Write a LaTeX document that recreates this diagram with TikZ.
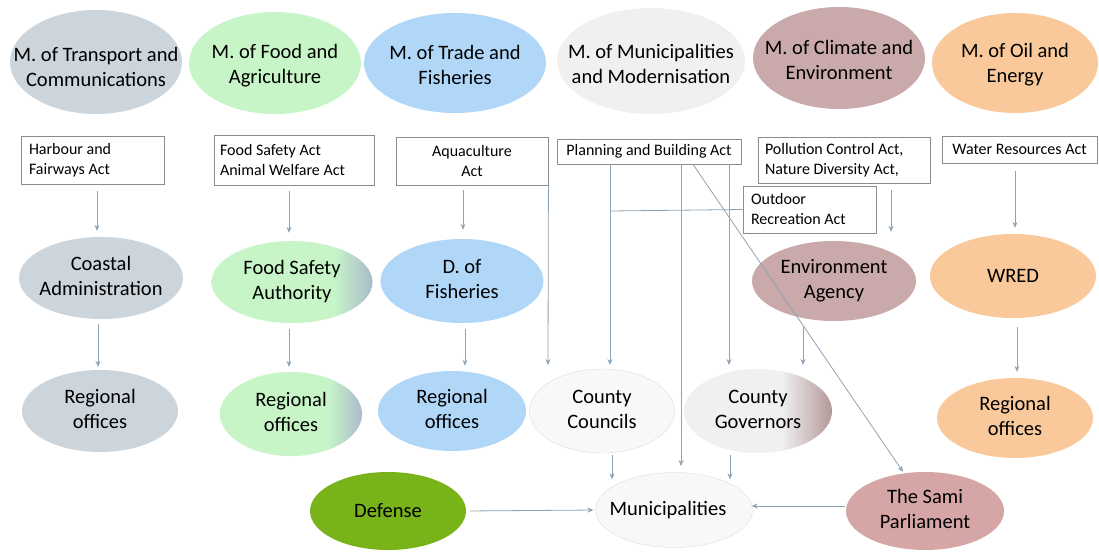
\documentclass[tikz,border=0pt]{standalone}
\usepackage{fontspec}
\setmainfont{Carlito}
\usetikzlibrary{shapes.geometric,arrows.meta}
\definecolor{cgray}{HTML}{CDD5DC}
\definecolor{cgreen}{HTML}{C8F5C8}
\definecolor{cblue}{HTML}{B0D7F8}
\definecolor{clight}{HTML}{F0F0F0}
\definecolor{cmauve}{HTML}{C9A9A9}
\definecolor{corange}{HTML}{F9C99B}
\definecolor{cdef}{HTML}{78B31A}
\definecolor{csami}{HTML}{D6A6A6}
\definecolor{cwhite}{HTML}{F9F7F7}
\definecolor{cwborder}{HTML}{E2DCDC}
\definecolor{cbg}{HTML}{A9BACB}
\definecolor{arrowc}{HTML}{8DA3B6}
\definecolor{boxc}{HTML}{8C8C8C}
\pgfdeclarehorizontalshading{greenblue}{100bp}{color(0bp)=(cgreen); color(25bp)=(cgreen); color(63bp)=(cgreen); color(75bp)=(cbg); color(100bp)=(cbg)}
\pgfdeclarehorizontalshading{graymauve}{100bp}{color(0bp)=(clight); color(25bp)=(clight); color(58bp)=(clight); color(75bp)=(cmauve!90!black); color(100bp)=(cmauve!90!black)}
\newcommand{\ztxt}[1]{\makebox[0pt]{\begin{tabular}{@{}c@{}}#1\end{tabular}}}
\newcommand{\ttxt}[2][-8.5pt]{\makebox[0pt]{\raisebox{#1}[0pt][0pt]{\begin{tabular}{@{}c@{}}#2\end{tabular}}}}
\tikzset{
  ell/.style={ellipse, inner sep=0pt, font=\fontsize{20.5}{25}\selectfont},
  actbox/.style={draw=boxc, line width=0.8pt, rectangle, inner sep=0pt, font=\fontsize{16}{20}\selectfont},
  lbox/.style={actbox, align=flush left, execute at begin node={\spaceskip=0pt\xspaceskip=0pt}},
  arr/.style={draw=arrowc, line width=0.8pt, -{Stealth[length=6pt,width=5pt]}},
  ln/.style={draw=arrowc, line width=0.8pt}
}
\begin{document}
\begin{tikzpicture}[x=1pt,y=-1pt]
\useasboundingbox (0,0) rectangle (1099,551);
% top ministries
\node[ell, fill=cgray, minimum width=172pt, minimum height=104pt] (mt) at (96,62) {\ttxt[-12pt]{M. of Transport and\\Communications}};
\node[ell, fill=cgreen, minimum width=172pt, minimum height=102pt] (mf) at (275,63) {\ttxt{M. of Food and\\Agriculture}};
\node[ell, fill=cblue, minimum width=182pt, minimum height=100pt] (mtr) at (455,63) {\ttxt[-9.5pt]{M. of Trade and\\Fisheries}};
\node[ell, fill=clight, minimum width=188pt, minimum height=106pt] (mm) at (651,61) {\ttxt[-10pt]{M. of Municipalities\\and Modernisation}};
\node[ell, fill=cmauve, minimum width=172pt, minimum height=102pt] (mc) at (839,58) {\ttxt[-9.5pt]{M. of Climate and\\Environment}};
\node[ell, fill=corange, minimum width=166pt, minimum height=100pt] (mo) at (1015,63) {\ttxt[-7.5pt]{M. of Oil and\\Energy}};
% act boxes
\node[lbox, minimum width=143pt, minimum height=48pt, text width=127pt] (harb) at (92.5,160) {Harbour and\\Fairways Act};
\node[lbox, minimum width=160pt, minimum height=50pt, text width=148pt] (food) at (294,160) {Food Safety Act\\Animal Welfare Act};
\node[actbox, minimum width=152pt, minimum height=48pt, align=center] (aqua) at (472,161) {Aquaculture\\Act};
\node[actbox, minimum width=184pt, minimum height=25pt, align=center] (plan) at (649,151.5) {Planning and Building Act};
\node[lbox, minimum width=172pt, minimum height=46pt, text width=158pt] (poll) at (844,160) {Pollution Control Act,\\Nature Diversity Act,};
\node[actbox, minimum width=155pt, minimum height=27pt, align=center] (water) at (1019.5,149.5) {Water Resources Act};
\node[lbox, minimum width=133pt, minimum height=47pt, text width=117pt, fill=white] (outd) at (809.5,209.5) {Outdoor\\Recreation Act};
% agencies
\node[ell, fill=cgray, minimum width=164pt, minimum height=82pt] (coast) at (101,278) {\ztxt{Coastal\\Administration}};
\node[ell, shading=greenblue, minimum width=161pt, minimum height=82pt] (fsa) at (292,282) {\ztxt{Food Safety\\Authority}};
\node[ell, fill=cblue, minimum width=163pt, minimum height=84pt] (dfis) at (462,281) {\ztxt{D. of\\Fisheries}};
\node[ell, fill=cmauve, minimum width=164pt, minimum height=80pt] (env) at (834,281) {\ztxt{Environment\\Agency}};
\node[ell, fill=corange, minimum width=166pt, minimum height=84pt] (wred) at (1013,276) {WRED};
% regional
\node[ell, fill=cgray, minimum width=156pt, minimum height=82pt] (reg1) at (100,411) {\ztxt{Regional\\offices}};
\node[ell, shading=greenblue, minimum width=142pt, minimum height=84pt] (reg2) at (291,414) {\ztxt{Regional\\offices}};
\node[ell, fill=cblue, minimum width=148pt, minimum height=80pt] (reg3) at (452,411) {\ztxt{Regional\\offices}};
\node[ell, fill=cwhite, draw=cwborder, minimum width=145pt, minimum height=84pt] (cc) at (602,411) {\ztxt{County\\Councils}};
\node[ell, shading=graymauve, minimum width=148pt, minimum height=84pt] (cg) at (758,411) {\ztxt{County\\Governors}};
\node[ell, fill=corange, minimum width=156pt, minimum height=80pt] (reg6) at (1015,418) {\ztxt{Regional\\offices}};
% bottom
\node[ell, fill=cdef, minimum width=156pt, minimum height=78pt] (def) at (388,511) {Defense};
\node[ell, fill=cwhite, draw=cwborder, minimum width=157pt, minimum height=75pt] (muni) at (674,510) {\makebox[0pt]{\hspace*{-12pt}Municipalities}};
\node[ell, fill=csami, minimum width=158pt, minimum height=78pt] (sami) at (925,511) {\ztxt{The Sami\\Parliament}};
% coordinates for free ends
\coordinate (aqin) at (548,365);
\coordinate (ccin) at (610,365);
\coordinate (muin) at (681,466);
\coordinate (cgin) at (729,365);
\coordinate (cgin2) at (803,365);
\coordinate (j1) at (610,211);
% connectors
\draw[arr, shorten <=7pt, shorten >=6pt] (harb.south -| 97,0) -- (coast.north -| 97,0);
\draw[arr, shorten <=5pt, shorten >=3pt] (coast.south -| 98,0) -- (reg1.north -| 98,0);
\draw[arr, shorten <=6pt, shorten >=8pt] (food.south -| 289,0) -- (fsa.north -| 289,0);
\draw[arr, shorten <=6pt, shorten >=5pt] (fsa.south -| 289,0) -- (reg2.north -| 289,0);
\draw[arr, shorten <=5pt, shorten >=9pt] (aqua.south -| 463,0) -- (dfis.north -| 463,0);
\draw[arr, shorten <=6pt, shorten >=5pt] (dfis.south -| 465,0) -- (reg3.north -| 465,0);
\draw[arr] (aqua.south east) -- (aqin);
\draw[arr] (plan.south -| ccin) -- (ccin);
\draw[ln] (outd.west) -- (j1);
\draw[arr] (plan.south -| muin) -- (muin);
\draw[arr] (plan.south -| cgin) -- (cgin);
\draw[arr] (plan.south -| 693,0) -- ([xshift=-22pt]sami.north);
\draw[arr, shorten <=7pt, shorten >=9pt] (poll.south -| 891,0) -- (env.north -| 891,0);
\draw[arr, shorten <=5pt] (env.south -| cgin2) -- (cgin2);
\draw[arr, shorten <=8pt, shorten >=6pt] (water.south -| 1015,0) -- (wred.north -| 1015,0);
\draw[arr, shorten <=9pt, shorten >=6pt] (wred.south -| 1017,0) -- (reg6.north -| 1017,0);
\draw[arr, shorten <=2pt, shorten >=-7pt] (cc.south -| 612,0) -- (muni.north -| 612,0);
\draw[arr, shorten <=2pt, shorten >=-7pt] (cg.south -| 730,0) -- (muni.north -| 730,0);
\draw[arr, shorten <=4pt, shorten >=2pt] (def.east) -- (muni.west);
\draw[arr, shorten <=1pt, shorten >=-1pt] (sami.west |- 0,506) -- (muni.east |- 0,506);
\end{tikzpicture}
\end{document}
